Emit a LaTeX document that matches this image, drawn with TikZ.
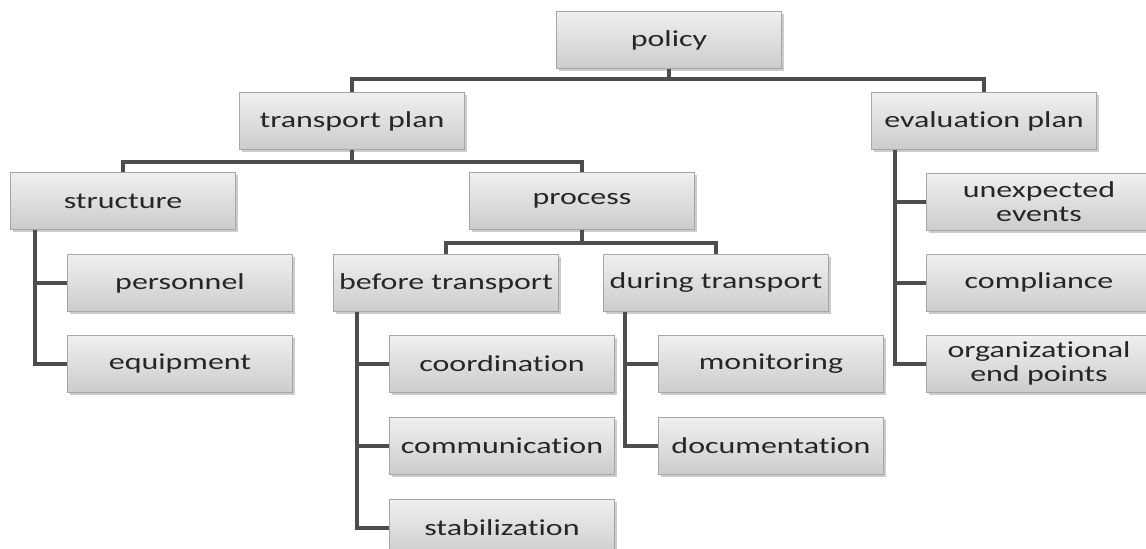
\documentclass[tikz,border=0pt]{standalone}
\usepackage{fontspec}
\setmainfont[FakeStretch=1.4, Ligatures=NoCommon]{Carlito}
\usepackage{xcolor}
\usepackage{tikz}
\usetikzlibrary{positioning, shadows}

\definecolor{linegray}{HTML}{4D4D4D}
\definecolor{textgray}{HTML}{262626}

\begin{document}
\begin{tikzpicture}[
    box/.style={rectangle, draw=gray!70, line width=0.5pt, top color=gray!12, bottom color=gray!40,
                minimum width=4.5cm, minimum height=1.14cm, align=center, font=\fontsize{13}{13.5}\selectfont,
                text=textgray, inner sep=1pt,
                drop shadow={shadow xshift=1.5pt, shadow yshift=-1.5pt, opacity=0.4}},
    conn/.style={draw=linegray, line width=2pt},
    trunk/.style={conn, line width=2.4pt}
]
\useasboundingbox (0,0) rectangle (22.92,-10.98);

% Top level
\node[box] (policy) at (13.38,-0.80) {policy};

% Plans
\node[box] (tplan) at (7.04,-2.42) {transport plan};
\node[box] (eplan) at (19.68,-2.42) {evaluation plan};

% Transport plan branches
\node[box] (structure) at (2.46,-4.02) {structure};
\node[box] (process) at (11.64,-4.02) {process};
\node[box] (personnel) at (3.60,-5.66) {personnel};
\node[box, below=0.46cm of personnel] (equipment) {equipment};
\node[box] (before) at (8.92,-5.66) {before transport};
\node[box] (during) at (14.32,-5.66) {during transport};
\node[box] (coord) at (10.04,-7.28) {coordination};
\node[box, below=0.48cm of coord] (comm) {communication};
\node[box, below=0.48cm of comm] (stab) {stabilization};
\node[box] (monitor) at (15.42,-7.28) {monitoring};
\node[box, below=0.48cm of monitor] (docu) {documentation};

% Evaluation plan branches
\node[box] (unexp) at (20.78,-4.04) {unexpected\\events};
\node[box, below=0.46cm of unexp] (compl) {compliance};
\node[box, below=0.46cm of compl] (orgend) {organizational\\end points};

% Tree connectors
\draw[conn] (policy.south) -- ++(0,-0.2) -| (tplan.north);
\draw[conn] (policy.south) -- ++(0,-0.2) -| (eplan.north);
\draw[conn] (tplan.south) -- ++(0,-0.24) -| (structure.north);
\draw[conn] (tplan.south) -- ++(0,-0.24) -| (process.north);
\draw[conn] (process.south) -- ++(0,-0.26) -| (before.north);
\draw[conn] (process.south) -- ++(0,-0.26) -| (during.north);

% Side trunks
\draw[trunk] ([xshift=0.5cm]structure.south west) |- (personnel.west);
\draw[trunk] ([xshift=0.5cm]structure.south west) |- (equipment.west);
\draw[trunk] ([xshift=0.48cm]before.south west) |- (coord.west);
\draw[trunk] ([xshift=0.48cm]before.south west) |- (comm.west);
\draw[trunk] ([xshift=0.48cm]before.south west) |- (stab.west);
\draw[trunk] ([xshift=0.44cm]during.south west) |- (monitor.west);
\draw[trunk] ([xshift=0.44cm]during.south west) |- (docu.west);
\draw[trunk] ([xshift=0.48cm]eplan.south west) |- (unexp.west);
\draw[trunk] ([xshift=0.48cm]eplan.south west) |- (compl.west);
\draw[trunk] ([xshift=0.48cm]eplan.south west) |- (orgend.west);

\end{tikzpicture}
\end{document}
